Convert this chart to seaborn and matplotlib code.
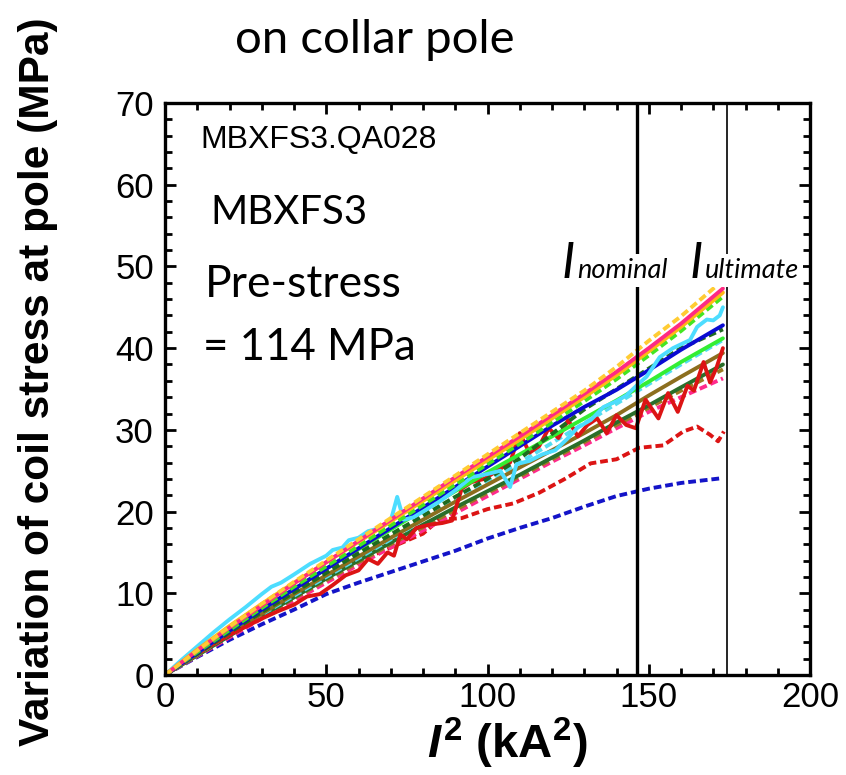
import numpy as np
import pandas as pd
import matplotlib
matplotlib.use("Agg")
import matplotlib.pyplot as plt
from matplotlib.ticker import MultipleLocator
import seaborn as sns

sns.set_theme(style="white")
plt.rcParams['font.family'] = ['Liberation Sans', 'DejaVu Sans']
plt.rcParams['text.color'] = 'black'
plt.rcParams['axes.labelcolor'] = 'black'
plt.rcParams['xtick.color'] = 'black'
plt.rcParams['ytick.color'] = 'black'
plt.rcParams['mathtext.fontset'] = 'custom'
plt.rcParams['mathtext.it'] = 'Liberation Sans:italic:bold'
plt.rcParams['mathtext.rm'] = 'Liberation Sans:bold'
plt.rcParams['mathtext.bf'] = 'Liberation Sans:bold'

# ---------------- data ----------------
x_grid = [0, 10, 20, 30, 40, 50, 60, 70, 80, 90, 100, 110, 120, 130, 140, 150, 160, 173]

gold_dashed   = [0, 3.0, 5.9, 8.7, 11.4, 14.0, 16.6, 19.2, 21.8, 24.4, 27.0, 29.6, 32.2, 34.8, 37.7, 40.9, 43.9, 48.3]
pink_solid    = [0, 3.0, 5.8, 8.5, 11.2, 13.8, 16.4, 19.0, 21.6, 24.2, 26.7, 29.2, 31.8, 34.4, 37.1, 40.0, 43.0, 47.3]
orange_solid  = [0, 3.1, 6.0, 8.7, 11.3, 13.8, 16.3, 18.8, 21.3, 23.8, 26.3, 28.8, 31.4, 34.0, 36.7, 39.6, 42.6, 46.8]
lgreen_dashed = [0, 2.8, 5.5, 8.2, 10.8, 13.3, 15.8, 18.3, 20.8, 23.3, 25.8, 28.3, 30.9, 33.5, 36.2, 39.1, 42.1, 46.3]
blue_solid    = [0, 2.7, 5.4, 8.0, 10.5, 13.0, 15.5, 18.0, 20.5, 23.0, 25.5, 28.0, 30.5, 32.8, 34.9, 37.3, 39.8, 42.8]
dgreen_dashed = [0, 2.6, 5.2, 7.7, 10.1, 12.5, 14.9, 17.2, 19.5, 21.8, 24.0, 26.5, 29.5, 32.5, 35.0, 37.5, 40.0, 42.3]
cyan_dashed   = [0, 2.5, 5.0, 7.4, 9.7, 12.0, 14.3, 16.6, 19.0, 21.3, 23.6, 26.0, 28.4, 30.8, 33.2, 35.6, 38.0, 41.0]
green_solid   = [0, 2.7, 5.4, 8.0, 10.5, 13.0, 15.4, 17.8, 20.2, 22.5, 24.8, 27.0, 29.2, 31.4, 33.6, 35.9, 38.3, 41.2]
olive_solid   = [0, 2.5, 5.0, 7.5, 9.9, 12.2, 14.5, 16.8, 19.0, 21.2, 23.3, 25.4, 27.5, 29.6, 31.8, 34.2, 36.5, 39.4]
dgreen_solid  = [0, 2.4, 4.8, 7.2, 9.5, 11.8, 14.0, 16.2, 18.4, 20.5, 22.5, 24.5, 26.6, 28.7, 30.9, 33.0, 35.2, 38.0]
olive_dashed  = [0, 2.4, 4.8, 7.1, 9.4, 11.6, 13.8, 16.0, 18.1, 20.2, 22.3, 24.3, 26.4, 28.5, 30.6, 32.7, 34.8, 37.4]
pink_dashed   = [0, 2.3, 4.6, 6.9, 9.1, 11.3, 13.5, 15.6, 17.7, 19.8, 21.9, 24.0, 26.1, 28.1, 30.2, 32.2, 34.0, 36.3]
blue_dashed   = [0, 2.2, 4.3, 6.2, 8.0, 9.9, 11.3, 12.6, 13.9, 15.2, 16.7, 18.0, 19.2, 20.6, 21.9, 22.8, 23.5, 24.1]

red_dashed_x = [0, 10, 20, 30, 40, 50, 60, 70, 80, 85, 92, 100, 108, 116, 124, 132, 140, 147, 154.5, 160.7, 165, 169, 171.5, 173.3]
red_dashed   = [0, 3.0, 5.8, 8.2, 10.3, 12.2, 13.9, 15.6, 17.3, 19.0, 19.2, 20.3, 21.0, 22.3, 24.0, 25.9, 26.4, 27.8, 28.1, 29.8, 30.4, 29.4, 28.6, 29.8]

cyan_solid_x = [0, 5, 10, 15, 20, 25, 30, 33, 36, 40, 45, 50, 52, 55, 57, 60, 63, 67, 70, 72, 74, 77, 80, 85, 90, 95, 100,
                104, 107, 109, 113, 117, 121, 125, 128, 132, 136, 140, 143, 147, 149.3, 153.4, 157.5, 162.8, 165, 168, 170, 172, 173]
cyan_solid   = [0, 1.8, 3.5, 5.2, 6.8, 8.3, 9.9, 10.8, 11.3, 12.3, 13.6, 14.6, 15.3, 15.6, 16.5, 16.8, 17.6, 18.0, 18.9, 21.8, 19.0, 19.3, 20.0, 21.2, 22.6, 24.2, 24.6,
                25.0, 23.0, 25.8, 26.2, 27.0, 27.5, 29.0, 30.3, 31.2, 32.8, 33.5, 34.2, 35.7, 36.5, 38.9, 40.0, 41.0, 42.6, 43.5, 43.4, 44.0, 45.0]

red_solid_x = [0, 5, 10, 15, 20, 25, 30, 35, 40, 44, 48, 52, 56, 60, 63, 66, 69, 71, 73, 75, 78, 82, 86, 89, 92, 95, 99, 103, 107,
               110, 113, 116, 119, 122, 125, 128, 131, 134, 137, 140, 143, 146, 149, 153, 156, 159, 162, 164, 167, 169, 171, 173]
red_solid   = [0, 1.3, 2.6, 3.8, 4.9, 5.9, 6.9, 7.8, 8.6, 9.6, 9.9, 11.0, 12.2, 12.8, 14.2, 13.6, 15.0, 14.6, 17.2, 16.6, 18.0, 18.4, 18.6, 18.9, 22.8, 23.6, 24.0, 25.0, 26.0,
               29.6, 27.2, 28.0, 30.2, 29.0, 31.2, 29.2, 30.6, 31.4, 29.6, 31.8, 30.6, 30.2, 33.7, 31.4, 34.5, 32.2, 35.4, 34.8, 38.3, 35.8, 37.6, 40.0]

I_nominal_sq = 146.4
I_ultimate_sq = 174.2

# (name, x, y, color, dashed)
series = [
    ("blue_dashed", x_grid, blue_dashed, "#1414C8", True),
    ("red_dashed", red_dashed_x, red_dashed, "#DC1414", True),
    ("pink_dashed", x_grid, pink_dashed, "#FF2A8C", True),
    ("olive_dashed", x_grid, olive_dashed, "#9C7A22", True),
    ("dgreen_solid", x_grid, dgreen_solid, "#2A6E2A", False),
    ("cyan_dashed", x_grid, cyan_dashed, "#55DDF0", True),
    ("olive_solid", x_grid, olive_solid, "#8C6E1E", False),
    ("red_solid", red_solid_x, red_solid, "#DC1414", False),
    ("green_solid", x_grid, green_solid, "#33EE33", False),
    ("dgreen_dashed", x_grid, dgreen_dashed, "#1F6B1F", True),
    ("blue_solid", x_grid, blue_solid, "#0A0AD2", False),
    ("cyan_solid", cyan_solid_x, cyan_solid, "#4DDDFF", False),
    ("lgreen_dashed", x_grid, lgreen_dashed, "#44E622", True),
    ("orange_solid", x_grid, orange_solid, "#FFB914", False),
    ("pink_solid", x_grid, pink_solid, "#FF2A82", False),
    ("gold_dashed", x_grid, gold_dashed, "#FFCC33", True),
]

frames = [pd.DataFrame({"series": n, "x": xs, "y": ys}) for n, xs, ys, c, d in series]
df = pd.concat(frames, ignore_index=True)

# ---------------- figure ----------------
W, H = 846, 775
fig = plt.figure(figsize=(W / 100, H / 100), dpi=100)
ax = fig.add_axes([165 / W, 1 - 675 / H, (810 - 165) / W, (675 - 103) / H])

for n, xs, ys, c, d in series:
    sub = df[df["series"] == n]
    sns.lineplot(data=sub, x="x", y="y", ax=ax, color=c, lw=2.8,
                 linestyle=(0, (2.0, 1.0)) if d else "-",
                 estimator=None, sort=False, legend=False)

ax.axvline(I_nominal_sq, color="black", lw=2.4, zorder=5)
ax.axvline(I_ultimate_sq, color="black", lw=1.2, zorder=5)

ax.set_xlim(0, 200)
ax.set_ylim(0, 70)
ax.xaxis.set_major_locator(MultipleLocator(50))
ax.xaxis.set_minor_locator(MultipleLocator(10))
ax.yaxis.set_major_locator(MultipleLocator(10))
ax.yaxis.set_minor_locator(MultipleLocator(2))
ax.tick_params(which="both", direction="in", top=True, right=True, bottom=True, left=True,
               width=2.0, color="black")
ax.tick_params(which="major", length=8, labelsize=25)
ax.tick_params(axis="x", which="major", pad=4)
ax.tick_params(axis="y", which="major", pad=8)
ax.tick_params(which="minor", length=5)
for s in ax.spines.values():
    s.set_linewidth(2.4)
    s.set_color("black")

ax.set_xlabel(r"$\mathit{I}^{2}$ (kA$^{2}$)", fontsize=34, fontweight="bold")
ax.xaxis.set_label_coords((507 - 165) / 645, (675 - 716) / 572)
ax.set_ylabel("Variation of coil stress at pole (MPa)", fontsize=30.5, fontweight="bold")
ax.yaxis.set_label_coords((58 - 165) / 645, (675 - 382) / 572)

def fx(px):
    return px / W

def fy(py):
    return 1 - py / H

fig.text(fx(235), fy(40), "on collar pole", fontsize=34, family="Lato", va="center", ha="left")
fig.text(fx(200), fy(140), "MBXFS3.QA028", fontsize=23, va="center", ha="left")
fig.text(fx(210), fy(212), "MBXFS3", fontsize=29, family="Lato", va="center", ha="left")
fig.text(fx(205), fy(285), "Pre-stress", fontsize=32, family="Lato", va="center", ha="left")
fig.text(fx(203), fy(347), "= 114 MPa", fontsize=31.5, family="Lato", va="center", ha="left")

# I_nominal / I_ultimate labels with white backgrounds that interrupt the lines
bbox = dict(facecolor="white", edgecolor="none", pad=3)
for left_px, sub in [(562, "nominal"), (690, "ultimate")]:
    fig.text(fx(left_px), fy(278), "I", fontsize=36, family="Lato", style="italic",
             ha="left", va="baseline", bbox=bbox, zorder=10)
    fig.text(fx(left_px + 15), fy(278), sub, fontsize=19.5, family="Lato", style="italic",
             ha="left", va="baseline", bbox=bbox, zorder=10)

fig.savefig("out.png", dpi=100)
